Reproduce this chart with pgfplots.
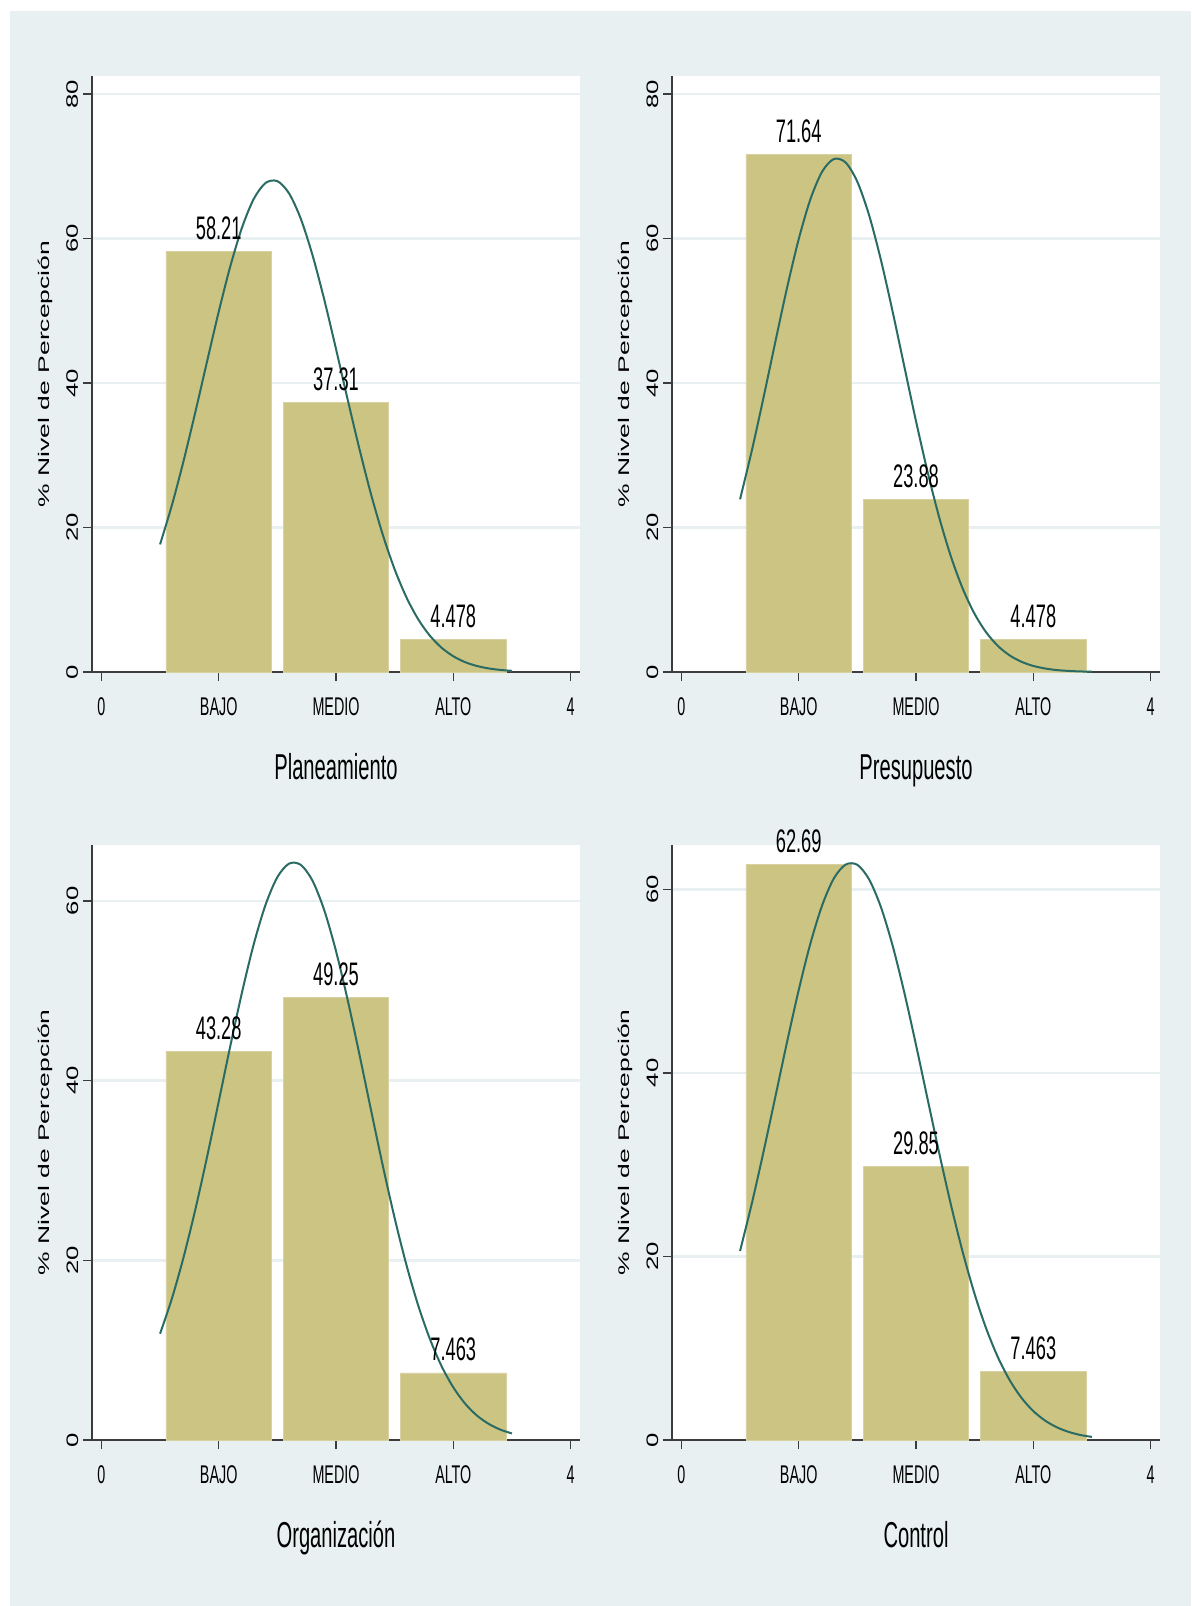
\documentclass[border=0pt]{standalone}
\usepackage{pgfplots}
\pgfplotsset{compat=1.18}
\usepackage{fontspec}
\setmainfont{Liberation Sans}
\newfontfamily\narrowfont[FakeStretch=0.56]{Liberation Sans}
\newfontfamily\widefont[FakeStretch=1.72]{Liberation Sans}
\newfontfamily\tickfont[FakeStretch=1.55]{Liberation Sans}

\definecolor{pagebg}{RGB}{233,240,242}
\definecolor{gridc}{RGB}{232,240,242}
\definecolor{barfill}{RGB}{204,196,130}
\definecolor{baredge}{RGB}{216,210,162}
\definecolor{curvec}{RGB}{42,108,100}
\definecolor{axisc}{RGB}{60,60,60}

\pgfplotsset{
  panel/.style={
    scale only axis,
    width=244pt,
    xmin=-0.08, xmax=4.08,
    ymin=0,
    axis x line*=bottom,
    axis y line*=left,
    axis line style={axisc, line width=0.7pt},
    axis background/.style={fill=white},
    xtick={0,1,2,3,4},
    xticklabels={0,BAJO,MEDIO,ALTO,4},
    tick align=outside,
    major tick length=4.5pt,
    tick style={axisc, line width=0.7pt},
    ymajorgrids,
    grid style={gridc, line width=1.2pt},
    xticklabel style={font=\narrowfont\fontsize{12.8}{14}\selectfont, text=black, yshift=-5pt},
    yticklabel style={xshift=-2.5pt, rotate=90, anchor=base, font=\tickfont\fontsize{8.3}{9}\selectfont, text=black},
    /pgf/number format/assume math mode=true,
    clip=false,
    xlabel style={font=\narrowfont\fontsize{18}{20}\selectfont, at={(axis description cs:0.5,-0.1805)}, anchor=base},
    ylabel={\% Nivel de Percepción},
    ylabel style={font=\widefont\fontsize{7.7}{9}\selectfont, at={(axis description cs:-0.0875,0.5)}, anchor=base, rotate=0},
  },
  bars/.style={
    ybar, bar width=0.9, fill=barfill, draw=baredge, line width=0.4pt,
    nodes near coords, point meta=explicit symbolic,
    every node near coord/.append style={font=\narrowfont\fontsize{16.3}{18}\selectfont, anchor=base, yshift=6pt, text=black},
  },
  normcurve/.style={curvec, line width=1pt, smooth, no markers},
}

\begin{document}
\begin{tikzpicture}
\fill[white] (0,0) rectangle (595.5pt,-803pt);
\fill[pagebg] (5pt,-5.5pt) rectangle (595.5pt,-803pt);

% Planeamiento
\begin{axis}[panel, at={(46pt,-336pt)}, anchor=south west, height=298pt,
  ymax=82.5, ytick={0,20,40,60,80}, xlabel={Planeamiento}]
\addplot[bars] coordinates {(1,58.21) [58.21] (2,37.31) [37.31] (3,4.478) [4.478]};
\addplot[normcurve] coordinates {
(0.5,17.66)(0.6,23.03)(0.7,29.18)(0.8,35.91)(0.9,42.93)(1.0,49.85)(1.1,56.22)(1.2,61.58)(1.3,65.52)(1.4,67.70)(1.5,67.95)(1.6,66.25)(1.7,62.73)(1.8,57.69)(1.9,51.54)(2.0,44.72)(2.1,37.68)(2.2,30.85)(2.3,24.52)(2.4,18.94)(2.5,14.21)(2.6,10.35)(2.7,7.32)(2.8,5.03)(2.9,3.36)(3.0,2.18)(3.1,1.37)(3.2,0.84)(3.3,0.50)(3.4,0.29)(3.5,0.16)};
\end{axis}

% Presupuesto
\begin{axis}[panel, at={(336pt,-336pt)}, anchor=south west, height=298pt,
  ymax=82.5, ytick={0,20,40,60,80}, xlabel={Presupuesto}]
\addplot[bars] coordinates {(1,71.64) [71.64] (2,23.88) [23.88] (3,4.478) [4.478]};
\addplot[normcurve] coordinates {
(0.5,23.91)(0.6,30.62)(0.7,37.98)(0.8,45.64)(0.9,53.13)(1.0,59.91)(1.1,65.45)(1.2,69.27)(1.3,71.01)(1.4,70.53)(1.5,67.86)(1.6,63.24)(1.7,57.10)(1.8,49.94)(1.9,42.32)(2.0,34.73)(2.1,27.62)(2.2,21.27)(2.3,15.87)(2.4,11.47)(2.5,8.03)(2.6,5.45)(2.7,3.58)(2.8,2.28)(2.9,1.41)(3.0,0.84)(3.1,0.49)(3.2,0.27)(3.3,0.15)(3.4,0.08)(3.5,0.04)};
\end{axis}

% Organización
\begin{axis}[panel, at={(46pt,-720pt)}, anchor=south west, height=297.5pt,
  ymax=66.23, ytick={0,20,40,60}, xlabel={Organización}]
\addplot[bars] coordinates {(1,43.28) [43.28] (2,49.25) [49.25] (3,7.463) [7.463]};
\addplot[normcurve] coordinates {
(0.5,11.83)(0.6,15.70)(0.7,20.32)(0.8,25.61)(0.9,31.46)(1.0,37.66)(1.1,43.92)(1.2,49.90)(1.3,55.25)(1.4,59.60)(1.5,62.65)(1.6,64.16)(1.7,64.02)(1.8,62.25)(1.9,58.97)(2.0,54.43)(2.1,48.95)(2.2,42.90)(2.3,36.63)(2.4,30.47)(2.5,24.70)(2.6,19.51)(2.7,15.01)(2.8,11.26)(2.9,8.22)(3.0,5.86)(3.1,4.06)(3.2,2.74)(3.3,1.81)(3.4,1.16)(3.5,0.73)};
\end{axis}

% Control
\begin{axis}[panel, at={(336pt,-720pt)}, anchor=south west, height=297.5pt,
  ymax=64.83, ytick={0,20,40,60}, xlabel={Control}]
\addplot[bars] coordinates {(1,62.69) [62.69] (2,29.85) [29.85] (3,7.463) [7.463]};
\addplot[normcurve] coordinates {
(0.5,20.60)(0.6,25.75)(0.7,31.40)(0.8,37.34)(0.9,43.32)(1.0,49.02)(1.1,54.11)(1.2,58.26)(1.3,61.20)(1.4,62.70)(1.5,62.67)(1.6,61.09)(1.7,58.10)(1.8,53.90)(1.9,48.77)(2.0,43.05)(2.1,37.07)(2.2,31.14)(2.3,25.51)(2.4,20.39)(2.5,15.89)(2.6,12.09)(2.7,8.97)(2.8,6.49)(2.9,4.58)(3.0,3.15)(3.1,2.12)(3.2,1.39)(3.3,0.89)(3.4,0.55)(3.5,0.34)};
\end{axis}

\pgfresetboundingbox
\useasboundingbox (0,0) rectangle (595.5pt,-803pt);
\end{tikzpicture}
\end{document}
